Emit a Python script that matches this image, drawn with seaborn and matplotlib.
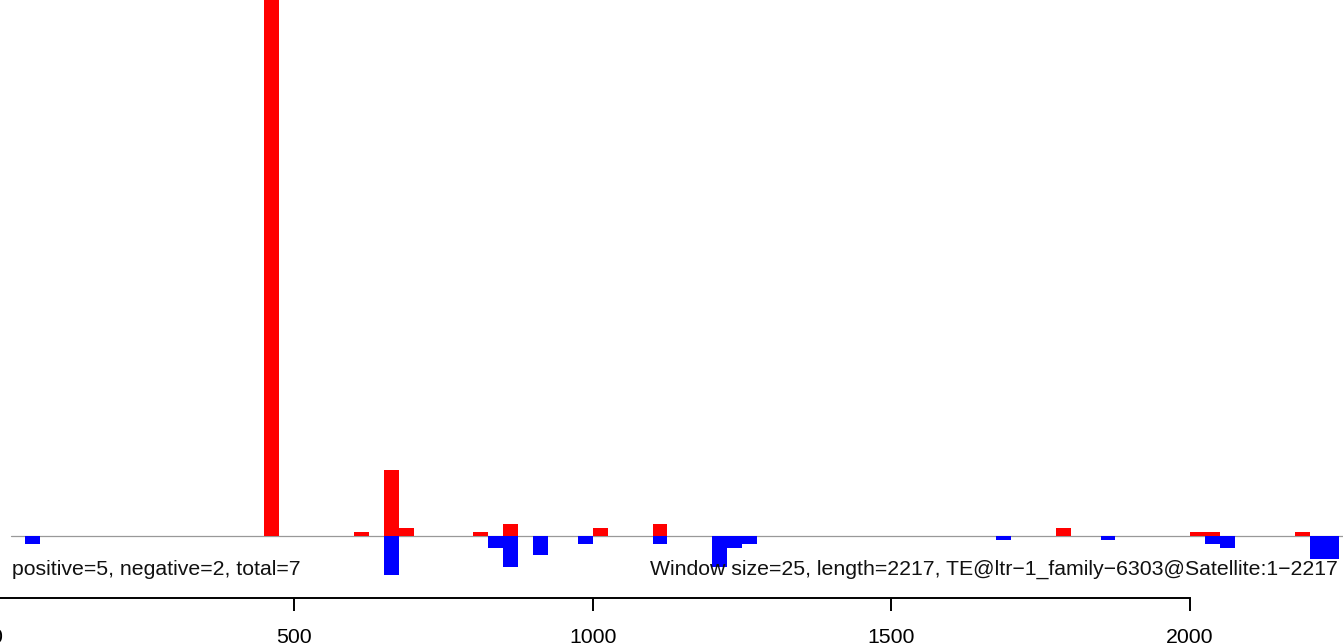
import matplotlib
matplotlib.use('Agg')
import matplotlib.pyplot as plt
import pandas as pd
import seaborn as sns

# window starts (size 25) and counts
pos_start = [450, 600, 650, 675, 800, 850, 1000, 1100, 1775, 2000, 2025, 2175]
pos_value = [160, 1, 17, 2, 1, 3, 2, 3, 2, 1, 1, 1]
neg_start = [50, 650, 825, 850, 900, 975, 1100, 1200, 1225, 1250, 1675, 1850, 2025, 2050, 2200, 2225]
neg_value = [-2, -10, -3, -8, -5, -2, -2, -8, -3, -2, -1, -1, -2, -3, -6, -6]
x_ticks = [0, 500, 1000, 1500, 2000]
window = 25
left_label = 'positive=5, negative=2, total=7'
right_label = 'Window size=25, length=2217, TE@ltr\u22121_family\u22126303@Satellite:1\u22122217'

pos_df = pd.DataFrame({'x': [s + window / 2 for s in pos_start], 'y': pos_value})
neg_df = pd.DataFrame({'x': [s + window / 2 for s in neg_start], 'y': neg_value})

sns.set_style('white')
plt.rcParams['font.family'] = ['Liberation Sans', 'DejaVu Sans']

W = 1343
extra = 20  # axes start a little left of the figure so the "0" tick is drawn, half cut
fig = plt.figure(figsize=(13.43, 6.44), dpi=100)
ax = fig.add_axes([-extra / W, 0, (W + extra) / W, 1])

sns.barplot(data=pos_df, x='x', y='y', color='red', native_scale=True, width=1,
            errorbar=None, saturation=1, linewidth=0, ax=ax)
sns.barplot(data=neg_df, x='x', y='y', color='blue', native_scale=True, width=1,
            errorbar=None, saturation=1, linewidth=0, ax=ax)

ax.axhline(0, xmin=(11 + extra) / (W + extra), color='#999999', lw=0.9, zorder=0)

ax.set_xlabel('')
ax.set_ylabel('')
for s in ['top', 'right', 'left']:
    ax.spines[s].set_visible(False)
ax.spines['bottom'].set_position(('data', -15.9))
ax.spines['bottom'].set_bounds(x_ticks[0], x_ticks[-1])
ax.spines['bottom'].set_linewidth(1.4)
ax.spines['bottom'].set_color('black')
ax.set_xticks(x_ticks)
ax.set_xticklabels([str(t) for t in x_ticks])
ax.tick_params(axis='x', bottom=True, direction='out', length=9.4, width=1.4,
               pad=12, labelsize=15.3, colors='black')
ax.set_yticks([])

# limits after ticks, otherwise set_xticks widens the view
ax.set_xlim(7.4 - extra / 0.5973, 2256)
ax.set_ylim(-27.7, 137.4)

ax.text(27, -8.5, left_label, ha='left', va='center', fontsize=15.3, color='#111111')
ax.text(2248, -8.5, right_label, ha='right', va='center', fontsize=15.3, color='#111111')

fig.savefig('out.png', dpi=100)
